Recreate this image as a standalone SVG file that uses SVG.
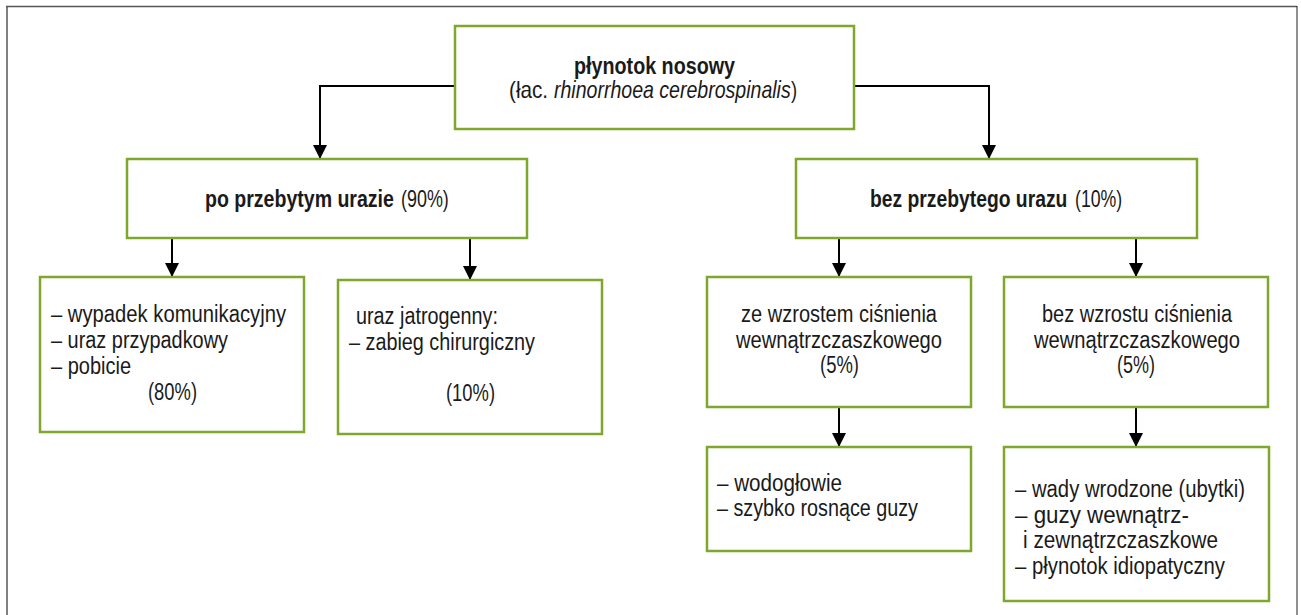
<svg xmlns="http://www.w3.org/2000/svg" width="1301" height="615" viewBox="0 0 1301 615">
<defs>
<style>
.box{fill:#ffffff;stroke:#7ea72c;stroke-width:2.5}
.t{font-family:"Liberation Sans",Arial,sans-serif;font-size:23px;fill:#1a1a1a}
.b{font-weight:bold}
.i{font-style:italic}
.con{fill:none;stroke:#000;stroke-width:2}
</style>
<marker id="arr" viewBox="0 0 14 14" refX="14" refY="7" markerWidth="14" markerHeight="14" markerUnits="userSpaceOnUse" orient="auto">
<path d="M0,0 L14,7 L0,14 z" fill="#000"/>
</marker>
</defs>
<rect x="0" y="0" width="1301" height="615" fill="#ffffff"/>
<g id="frame">
<line x1="7" y1="6" x2="7" y2="615" stroke="#808080" stroke-width="2"/>
<line x1="6" y1="6.5" x2="1297" y2="6.5" stroke="#555" stroke-width="1.5"/>
<line x1="1297" y1="6" x2="1297" y2="615" stroke="#222" stroke-width="1"/>
</g>
<g id="connectors">
<path class="con" d="M455,86 H320 V159" marker-end="url(#arr)"/>
<path class="con" d="M854,86 H989 V159" marker-end="url(#arr)"/>
<path class="con" d="M172,238 V277" marker-end="url(#arr)"/>
<path class="con" d="M470,238 V280" marker-end="url(#arr)"/>
<path class="con" d="M839,238 V277" marker-end="url(#arr)"/>
<path class="con" d="M1136,238 V277" marker-end="url(#arr)"/>
<path class="con" d="M839,406 V447" marker-end="url(#arr)"/>
<path class="con" d="M1136,406 V447" marker-end="url(#arr)"/>
</g>
<g id="root">
<rect class="box" x="455" y="26" width="399" height="103"/>
<text class="t b" x="574" y="74" textLength="161" lengthAdjust="spacingAndGlyphs">płynotok nosowy</text>
<text class="t" transform="translate(509,98) scale(0.9,1)">(łac.</text>
<text class="t i" transform="translate(554,98) scale(0.85,1)">rhinorrhoea cerebrospinalis</text>
<text class="t" transform="translate(791,98) scale(0.8,1)">)</text>
</g>
<g id="trauma">
<rect class="box" x="127" y="159" width="400" height="79"/>
<text class="t b" transform="translate(205,207) scale(0.85,1)">po przebytym urazie</text>
<text class="t" transform="translate(401,207) scale(0.78,1)">(90%)</text>
</g>
<g id="notrauma">
<rect class="box" x="796" y="159" width="401" height="79"/>
<text class="t b" transform="translate(870,207) scale(0.84,1)">bez przebytego urazu</text>
<text class="t" transform="translate(1075,207) scale(0.77,1)">(10%)</text>
</g>
<g id="accident">
<rect class="box" x="40" y="277" width="264" height="155"/>
<text class="t" x="51" y="322" textLength="235" lengthAdjust="spacingAndGlyphs">– wypadek komunikacyjny</text>
<text class="t" x="51" y="348" textLength="177" lengthAdjust="spacingAndGlyphs">– uraz przypadkowy</text>
<text class="t" x="51" y="374" textLength="80" lengthAdjust="spacingAndGlyphs">– pobicie</text>
<text class="t" x="148" y="400" textLength="49" lengthAdjust="spacingAndGlyphs">(80%)</text>
</g>
<g id="iatrogenic">
<rect class="box" x="338" y="280" width="264" height="154"/>
<text class="t" x="356" y="324" textLength="142" lengthAdjust="spacingAndGlyphs">uraz jatrogenny:</text>
<text class="t" x="349" y="350" textLength="186" lengthAdjust="spacingAndGlyphs">– zabieg chirurgiczny</text>
<text class="t" x="446" y="401" textLength="49" lengthAdjust="spacingAndGlyphs">(10%)</text>
</g>
<g id="highpressure">
<rect class="box" x="707" y="277" width="264" height="130"/>
<text class="t" x="741" y="322" textLength="196" lengthAdjust="spacingAndGlyphs">ze wzrostem ciśnienia</text>
<text class="t" x="736" y="348" textLength="206" lengthAdjust="spacingAndGlyphs">wewnątrzczaszkowego</text>
<text class="t" x="820" y="373" textLength="39" lengthAdjust="spacingAndGlyphs">(5%)</text>
</g>
<g id="normalpressure">
<rect class="box" x="1004" y="277" width="264" height="130"/>
<text class="t" x="1042" y="322" textLength="190" lengthAdjust="spacingAndGlyphs">bez wzrostu ciśnienia</text>
<text class="t" x="1034" y="348" textLength="206" lengthAdjust="spacingAndGlyphs">wewnątrzczaszkowego</text>
<text class="t" x="1117" y="373" textLength="38" lengthAdjust="spacingAndGlyphs">(5%)</text>
</g>
<g id="hydrocephalus">
<rect class="box" x="707" y="447" width="264" height="104"/>
<text class="t" x="717" y="491" textLength="125" lengthAdjust="spacingAndGlyphs">– wodogłowie</text>
<text class="t" x="717" y="516" textLength="201" lengthAdjust="spacingAndGlyphs">– szybko rosnące guzy</text>
</g>
<g id="congenital">
<rect class="box" x="1004" y="447" width="265" height="154"/>
<text class="t" x="1015" y="497" textLength="230" lengthAdjust="spacingAndGlyphs">– wady wrodzone (ubytki)</text>
<text class="t" x="1015" y="523" textLength="174" lengthAdjust="spacingAndGlyphs">– guzy wewnątrz-</text>
<text class="t" x="1023" y="548" textLength="195" lengthAdjust="spacingAndGlyphs">i zewnątrzczaszkowe</text>
<text class="t" x="1015" y="574" textLength="210" lengthAdjust="spacingAndGlyphs">– płynotok idiopatyczny</text>
</g>
</svg>
